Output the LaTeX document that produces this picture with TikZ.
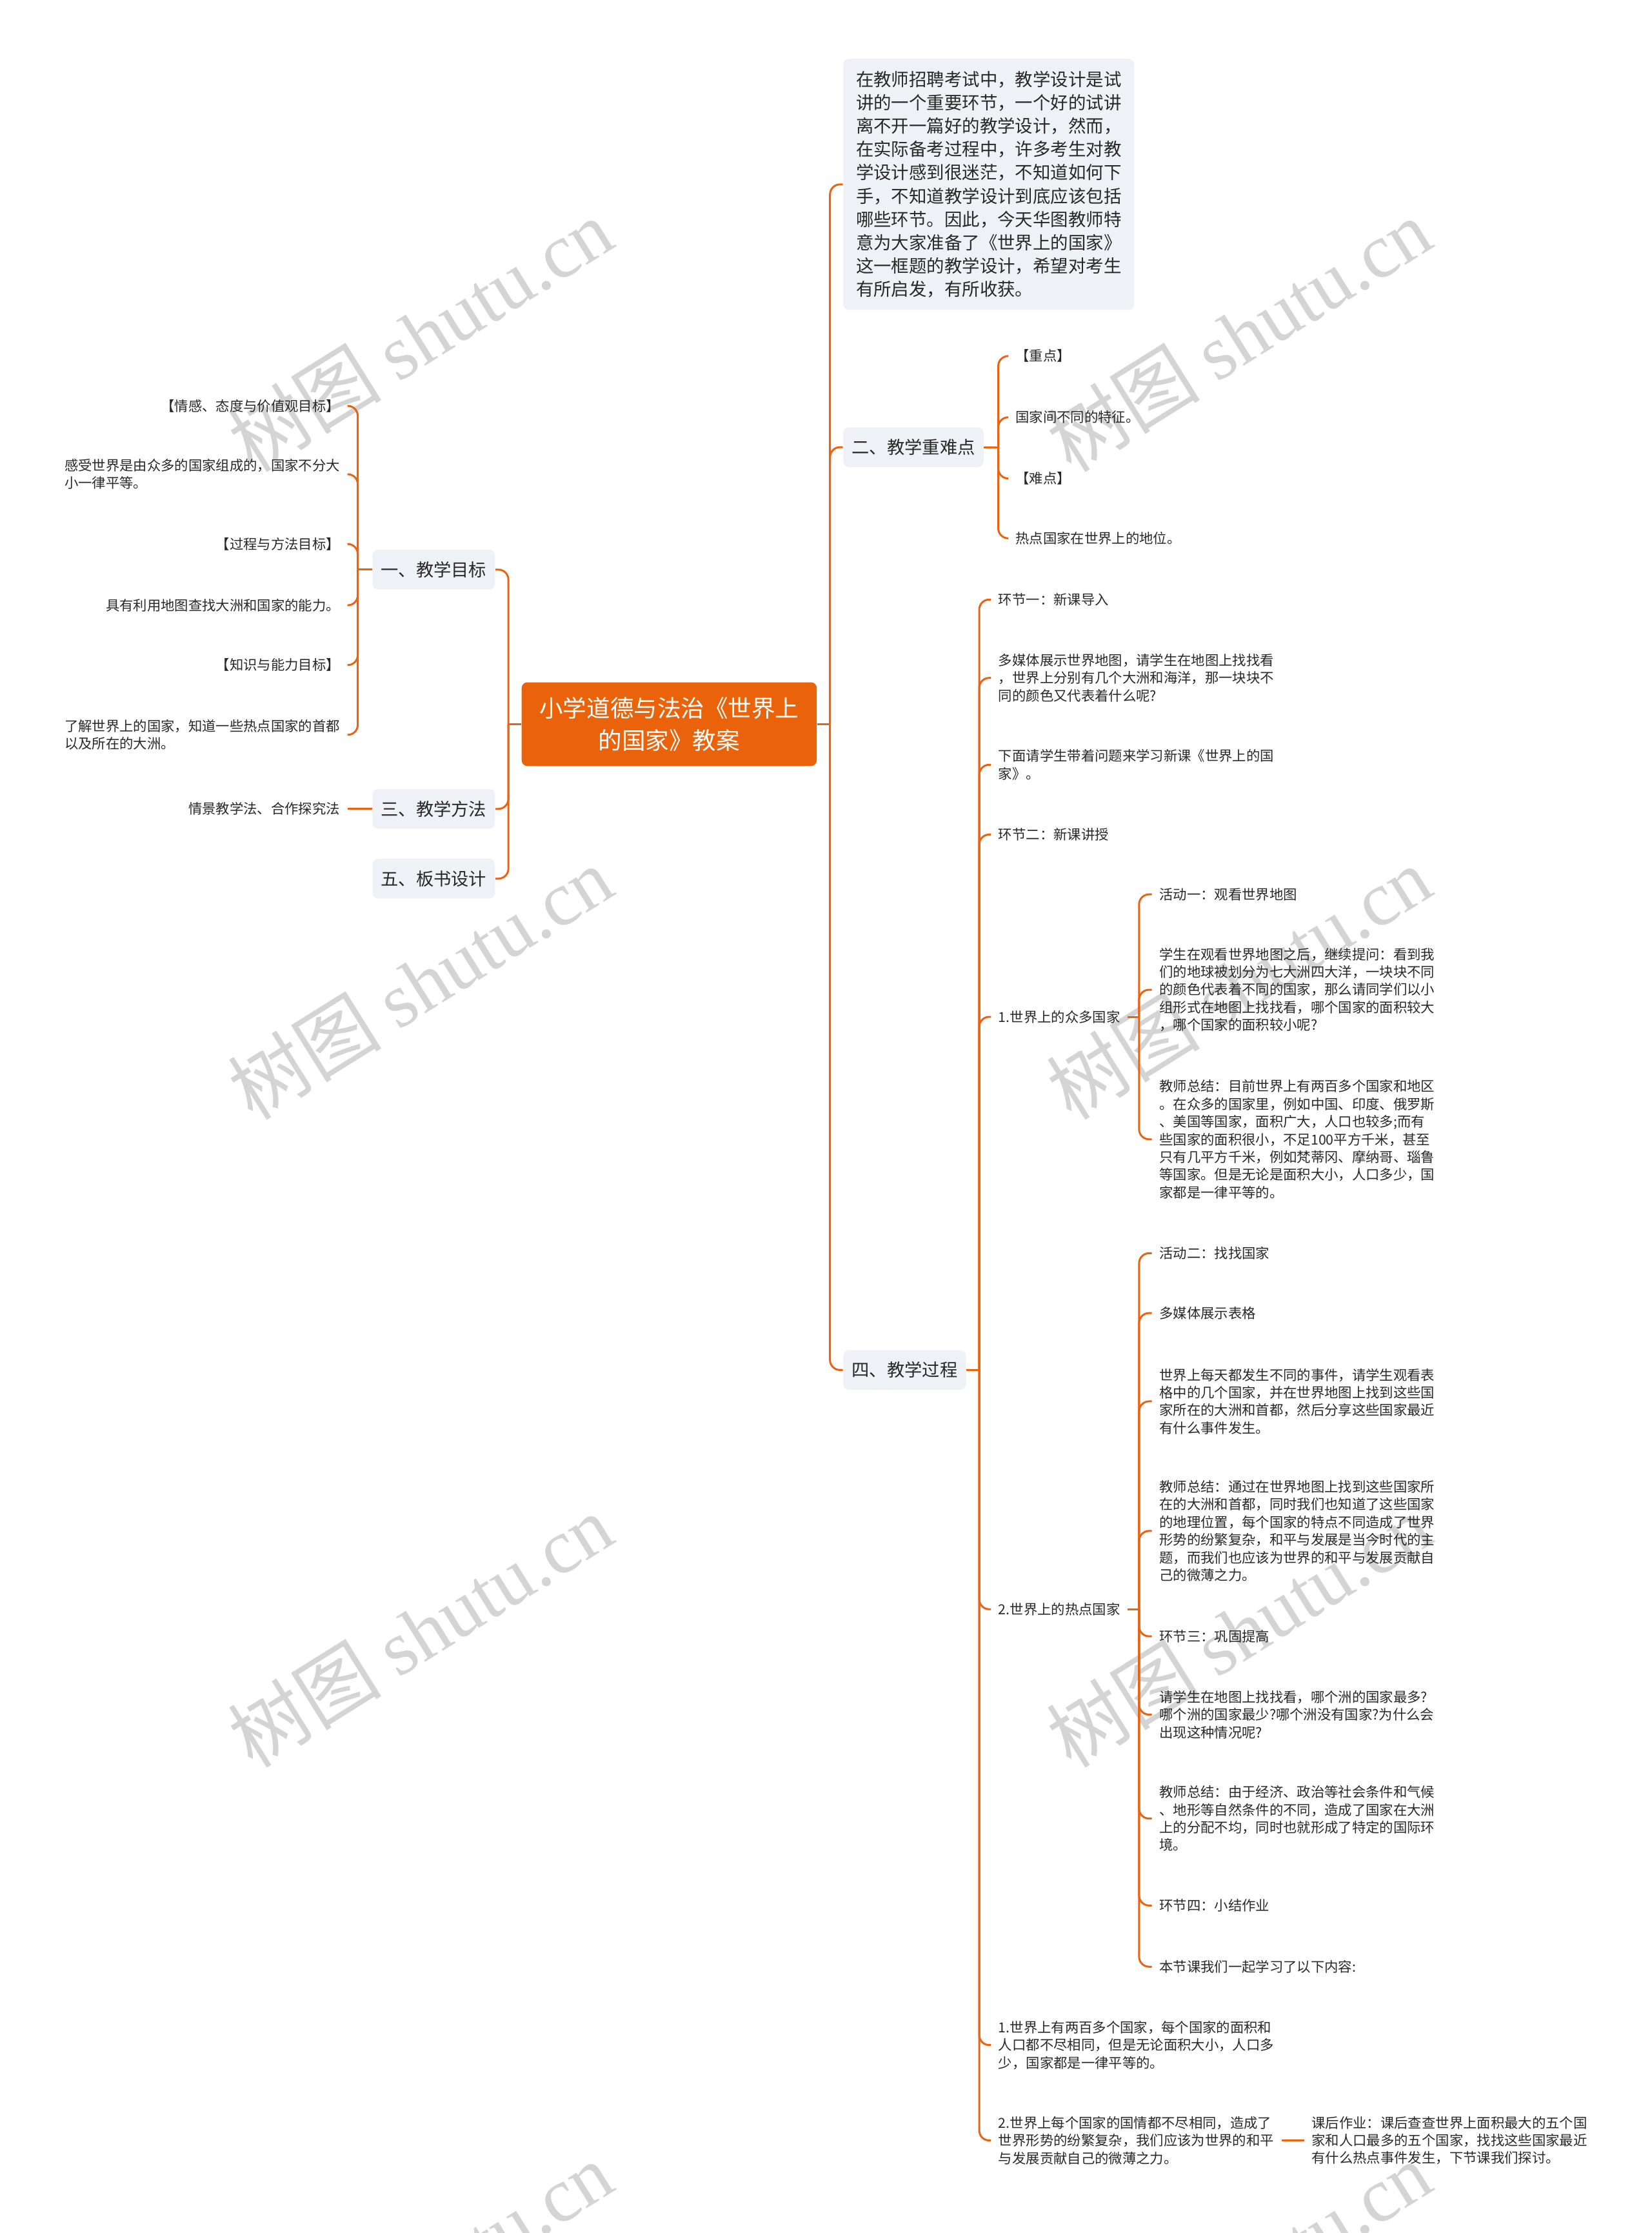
\documentclass[tikz,border=0pt]{standalone}
\usepackage{fontspec}
\setmainfont{Noto Sans CJK SC}
\newfontfamily\wmlatin{Liberation Serif}
\usetikzlibrary{calc}
\definecolor{lnc}{RGB}{233,99,18}
\definecolor{rootc}{RGB}{234,98,10}
\definecolor{secc}{RGB}{238,241,245}
\definecolor{txtc}{RGB}{40,40,40}
\definecolor{wmc}{RGB}{212,212,212}
\tikzset{
  link/.style={draw=lnc, line width=0.85pt, rounded corners=4.4pt},
  leaf/.style={font=\fontsize{6.07pt}{7.8pt}\selectfont, align=left, inner xsep=3.13pt, inner ysep=1pt, text=txtc},
  secbox/.style={fill=secc, rounded corners=2.5pt, font=\fontsize{7.76pt}{10pt}\selectfont, minimum height=17.5pt, inner xsep=3.75pt, inner ysep=0pt, text=txtc},
  rootbox/.style={fill=rootc, rounded corners=2.5pt, font=\fontsize{10.4pt}{14.4pt}\selectfont, align=center, text=white, minimum width=130.1pt, minimum height=36.9pt},
  introbox/.style={fill=secc, rounded corners=2.5pt, font=\fontsize{7.8pt}{10.26pt}\selectfont, align=left, text=txtc, minimum width=128.2pt, minimum height=110.7pt},
  wm/.style={text=wmc, rotate=32, font=\fontsize{34pt}{34pt}\selectfont}
}
\begin{document}
\begin{tikzpicture}[x=0.022069cm, y=-0.022069cm]
\useasboundingbox (0,0) rectangle (1160,1568);
% watermarks
\node[wm] (w1) at (295,235) {树图 {\wmlatin shutu.cn}};
\node[wm] (w2) at (870,235) {树图 {\wmlatin shutu.cn}};
\node[wm] (w3) at (295,690) {树图 {\wmlatin shutu.cn}};
\node[wm] (w4) at (870,690) {树图 {\wmlatin shutu.cn}};
\node[wm] (w5) at (295,1145) {树图 {\wmlatin shutu.cn}};
\node[wm] (w6) at (870,1145) {树图 {\wmlatin shutu.cn}};
\node[wm] (w7) at (295,1600) {树图 {\wmlatin shutu.cn}};
\node[wm] (w8) at (870,1600) {树图 {\wmlatin shutu.cn}};

% root
\node[rootbox] (root) at (470,508.5) {小学道德与法治《世界上\\的国家》教案};

% right sections
\node[introbox, anchor=north west] (intro) at (592,41) {在教师招聘考试中，教学设计是试\\讲的一个重要环节，一个好的试讲\\离不开一篇好的教学设计，然而，\\在实际备考过程中，许多考生对教\\学设计感到很迷茫，不知道如何下\\手，不知道教学设计到底应该包括\\哪些环节。因此，今天华图教师特\\意为大家准备了《世界上的国家》\\这一框题的教学设计，希望对考生\\有所启发，有所收获。};
\node[secbox, anchor=west] (s2) at (592,314) {二、教学重难点};
\node[secbox, anchor=west] (s4) at (592,962) {四、教学过程};

% left sections
\node[secbox, anchor=east] (s1) at (348,400) {一、教学目标};
\node[secbox, anchor=east] (s3) at (348,568) {三、教学方法};
\node[secbox, anchor=east] (s5) at (348,617) {五、板书设计};

% children of s2
\node[leaf, anchor=west] (z1) at (708,250) {【重点】};
\node[leaf, anchor=west] (z2) at (708,293) {国家间不同的特征。};
\node[leaf, anchor=west] (z3) at (708,336) {【难点】};
\node[leaf, anchor=west] (z4) at (708,378) {热点国家在世界上的地位。};

% children of s4
\node[leaf, anchor=west] (p1) at (696,421) {环节一：新课导入};
\node[leaf, anchor=west] (p2) at (696,476) {多媒体展示世界地图，请学生在地图上找找看\\，世界上分别有几个大洲和海洋，那一块块不\\同的颜色又代表着什么呢?};
\node[leaf, anchor=west] (p3) at (696,537) {下面请学生带着问题来学习新课《世界上的国\\家》。};
\node[leaf, anchor=west] (p4) at (696,586) {环节二：新课讲授};
\node[leaf, anchor=west] (n1) at (696,714) {1.世界上的众多国家};
\node[leaf, anchor=west] (n2) at (696,1130) {2.世界上的热点国家};
\node[leaf, anchor=west] (p5) at (696,1436) {1.世界上有两百多个国家，每个国家的面积和\\人口都不尽相同，但是无论面积大小，人口多\\少，国家都是一律平等的。};
\node[leaf, anchor=west] (p6) at (696,1503) {2.世界上每个国家的国情都不尽相同，造成了\\世界形势的纷繁复杂，我们应该为世界的和平\\与发展贡献自己的微薄之力。};
\node[leaf, anchor=west] (hw) at (916,1503) {课后作业：课后查查世界上面积最大的五个国\\家和人口最多的五个国家，找找这些国家最近\\有什么热点事件发生，下节课我们探讨。};

% children of n1
\node[leaf, anchor=west] (a1) at (809,628) {活动一：观看世界地图};
\node[leaf, anchor=west] (a2) at (809,695) {学生在观看世界地图之后，继续提问：看到我\\们的地球被划分为七大洲四大洋，一块块不同\\的颜色代表着不同的国家，那么请同学们以小\\组形式在地图上找找看，哪个国家的面积较大\\，哪个国家的面积较小呢?};
\node[leaf, anchor=west] (a3) at (809,800) {教师总结：目前世界上有两百多个国家和地区\\。在众多的国家里，例如中国、印度、俄罗斯\\、美国等国家，面积广大，人口也较多;而有\\些国家的面积很小，不足100平方千米，甚至\\只有几平方千米，例如梵蒂冈、摩纳哥、瑙鲁\\等国家。但是无论是面积大小，人口多少，国\\家都是一律平等的。};

% children of n2
\node[leaf, anchor=west] (b1) at (809,880) {活动二：找找国家};
\node[leaf, anchor=west] (b2) at (809,922) {多媒体展示表格};
\node[leaf, anchor=west] (b3) at (809,984) {世界上每天都发生不同的事件，请学生观看表\\格中的几个国家，并在世界地图上找到这些国\\家所在的大洲和首都，然后分享这些国家最近\\有什么事件发生。};
\node[leaf, anchor=west] (b4) at (809,1075) {教师总结：通过在世界地图上找到这些国家所\\在的大洲和首都，同时我们也知道了这些国家\\的地理位置，每个国家的特点不同造成了世界\\形势的纷繁复杂，和平与发展是当今时代的主\\题，而我们也应该为世界的和平与发展贡献自\\己的微薄之力。};
\node[leaf, anchor=west] (b5) at (809,1149) {环节三：巩固提高};
\node[leaf, anchor=west] (b6) at (809,1204) {请学生在地图上找找看，哪个洲的国家最多?\\哪个洲的国家最少?哪个洲没有国家?为什么会\\出现这种情况呢?};
\node[leaf, anchor=west] (b7) at (809,1277) {教师总结：由于经济、政治等社会条件和气候\\、地形等自然条件的不同，造成了国家在大洲\\上的分配不均，同时也就形成了特定的国际环\\境。};
\node[leaf, anchor=west] (b8) at (809,1338) {环节四：小结作业};
\node[leaf, anchor=west] (b9) at (809,1381) {本节课我们一起学习了以下内容:};

% children of s1
\node[leaf, anchor=east] (g1) at (244,285) {【情感、态度与价值观目标】};
\node[leaf, anchor=east] (g2) at (244,333) {感受世界是由众多的国家组成的，国家不分大\\小一律平等。};
\node[leaf, anchor=east] (g3) at (244,382) {【过程与方法目标】};
\node[leaf, anchor=east] (g4) at (244,425) {具有利用地图查找大洲和国家的能力。};
\node[leaf, anchor=east] (g5) at (244,467) {【知识与能力目标】};
\node[leaf, anchor=east] (g6) at (244,516) {了解世界上的国家，知道一些热点国家的首都\\以及所在的大洲。};

% child of s3
\node[leaf, anchor=east] (m1) at (244,568) {情景教学法、合作探究法};

% junctions
\coordinate (rj) at ($(root.east)+(9,0)$);
\coordinate (lj) at ($(root.west)+(-9,0)$);
\coordinate (s2j) at ($(s2.east)+(10,0)$);
\coordinate (s4j) at ($(s4.east)+(9,0)$);
\coordinate (n1j) at ($(n1.east)+(8,0)$);
\coordinate (n2j) at ($(n2.east)+(8,0)$);
\coordinate (s1j) at ($(s1.west)+(-10,0)$);

% root connectors
\draw[link] (root.east) -- (rj);
\draw[link] (root.west) -- (lj);
\draw[link] (rj) |- (intro.west);
\draw[link] (rj) |- (s2.west);
\draw[link] (rj) |- (s4.west);
\draw[link] (lj) |- (s1.east);
\draw[link] (lj) |- (s3.east);
\draw[link] (lj) |- (s5.east);

% s2
\draw[link] (s2.east) -- (s2j);
\foreach \c in {z1,z2,z3,z4} \draw[link] (s2j) |- (\c.west);

% s4
\draw[link] (s4.east) -- (s4j);
\foreach \c in {p1,p2,p3,p4,n1,n2,p5,p6} \draw[link] (s4j) |- (\c.west);
\draw[link] (p6.east) -- (hw.west);

% n1, n2
\draw[link] (n1.east) -- (n1j);
\foreach \c in {a1,a2,a3} \draw[link] (n1j) |- (\c.west);
\draw[link] (n2.east) -- (n2j);
\foreach \c in {b1,b2,b3,b4,b5,b6,b7,b8,b9} \draw[link] (n2j) |- (\c.west);

% s1, s3
\draw[link] (s1.west) -- (s1j);
\foreach \c in {g1,g2,g3,g4,g5,g6} \draw[link] (s1j) |- (\c.east);
\draw[link] (s3.west) -- (m1.east);
\end{tikzpicture}
\end{document}
